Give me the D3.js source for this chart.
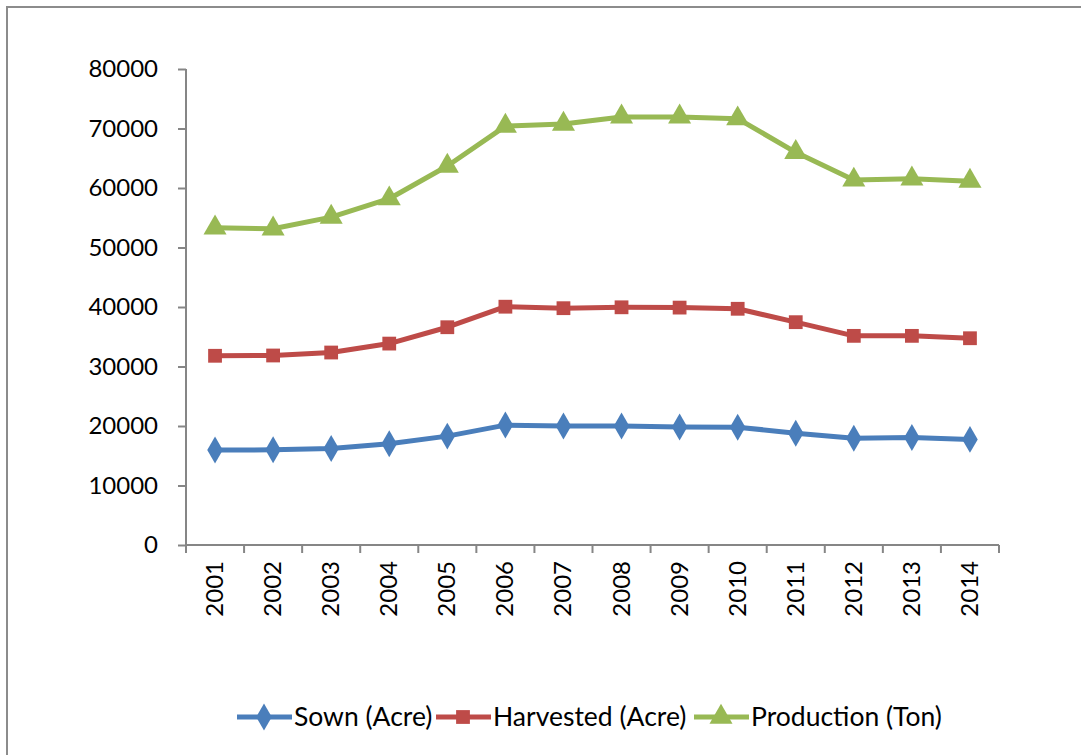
<!DOCTYPE html>
<html>
<head>
<meta charset="utf-8">
<script src="https://d3js.org/d3.v7.min.js"></script>
<style>
  body { margin: 0; background: #fff; }
  text { font-family: Lato, "Open Sans", sans-serif; fill: #000; }
</style>
</head>
<body>
<div id="chart"></div>
<script>
// données
const years = ["2001","2002","2003","2004","2005","2006","2007","2008","2009","2010","2011","2012","2013","2014"];
const sown = [15950, 16000, 16200, 17000, 18300, 20150, 20000, 20000, 19850, 19800, 18800, 17950, 18050, 17750];
const harvested = [31800, 31850, 32350, 33850, 36600, 40050, 39800, 39950, 39900, 39700, 37450, 35150, 35150, 34750];
const production = [53300, 53150, 55100, 58200, 63700, 70400, 70750, 71950, 71950, 71650, 66000, 61350, 61550, 61150];
const yTicks = [0, 10000, 20000, 30000, 40000, 50000, 60000, 70000, 80000];

const series = [
    {name: "Sown (Acre)", values: sown, color: "#4a7ebb", symbol: d3.symbolDiamond, size: 210},
    {name: "Harvested (Acre)", values: harvested, color: "#be4b48", symbol: d3.symbolSquare, size: 190},
    {name: "Production (Ton)", values: production, color: "#98b954", symbol: d3.symbolTriangle, size: 230}
];

const width = 1081, height = 755;
const margin = {left: 186, right: 82, top: 69, bottom: 210};

const svg = d3.select("#chart").append("svg")
    .attr("width", width)
    .attr("height", height);

// cadre extérieur
svg.append("rect")
    .attr("x", 7).attr("y", 7)
    .attr("width", 1200).attr("height", 900)
    .attr("fill", "none")
    .attr("stroke", "#8c8c8c")
    .attr("stroke-width", 2);

const x = d3.scaleBand()
    .domain(years)
    .range([margin.left, width - margin.right]);

const y = d3.scaleLinear()
    .domain([0, 80000])
    .range([height - margin.bottom, margin.top]);

// axe Y
const yAxis = svg.append("g")
    .attr("transform", `translate(${margin.left},0)`)
    .call(d3.axisLeft(y).tickValues(yTicks).tickSize(8).tickPadding(20).tickFormat(d3.format("d")));
yAxis.selectAll("line, path").attr("stroke", "#868686").attr("stroke-width", 2);
yAxis.select(".domain").attr("d", `M0,${y(80000)}V${y(0)}`);
yAxis.selectAll("text").style("font-size", "24px").style("font-family", "Lato, sans-serif");

// axe X, traits aux bords des catégories
const xAxisG = svg.append("g")
    .attr("transform", `translate(0,${y(0)})`);
xAxisG.append("line")
    .attr("x1", margin.left).attr("x2", width - margin.right)
    .attr("stroke", "#868686").attr("stroke-width", 2);
const edges = years.map(d => x(d)).concat([x(years[years.length - 1]) + x.bandwidth()]);
xAxisG.selectAll(".tk").data(edges).enter().append("line")
    .attr("x1", d => d).attr("x2", d => d)
    .attr("y1", 0).attr("y2", 8)
    .attr("stroke", "#868686").attr("stroke-width", 2);
xAxisG.selectAll(".yr").data(years).enter().append("text")
    .attr("transform", d => `translate(${x(d) + x.bandwidth() / 2 + 8},16) rotate(-90)`)
    .attr("text-anchor", "end")
    .style("font-size", "24px")
    .text(d => d);

const line = d3.line()
    .x((d, i) => x(years[i]) + x.bandwidth() / 2)
    .y(d => y(d));

series.forEach(s => {
    svg.append("path")
        .datum(s.values)
        .attr("fill", "none")
        .attr("stroke", s.color)
        .attr("stroke-width", 5)
        .attr("stroke-linejoin", "round")
        .attr("d", line);
    svg.selectAll(null).data(s.values).enter().append("path")
        .attr("d", d3.symbol().type(s.symbol).size(s.size))
        .attr("transform", (d, i) => `translate(${x(years[i]) + x.bandwidth() / 2},${y(d)})`)
        .attr("fill", s.color);
});

// légende
const legendY = 717;
const legendX = [237, 436, 694];
series.forEach((s, k) => {
    const g = svg.append("g").attr("transform", `translate(${legendX[k]},${legendY})`);
    g.append("line")
        .attr("x1", 0).attr("x2", 55)
        .attr("stroke", s.color).attr("stroke-width", 5);
    g.append("path")
        .attr("d", d3.symbol().type(s.symbol).size(s.size))
        .attr("transform", "translate(27,0)")
        .attr("fill", s.color);
    g.append("text")
        .attr("x", 57).attr("y", 9)
        .style("font-size", "26.5px")
        .text(s.name);
});
</script>
</body>
</html>
